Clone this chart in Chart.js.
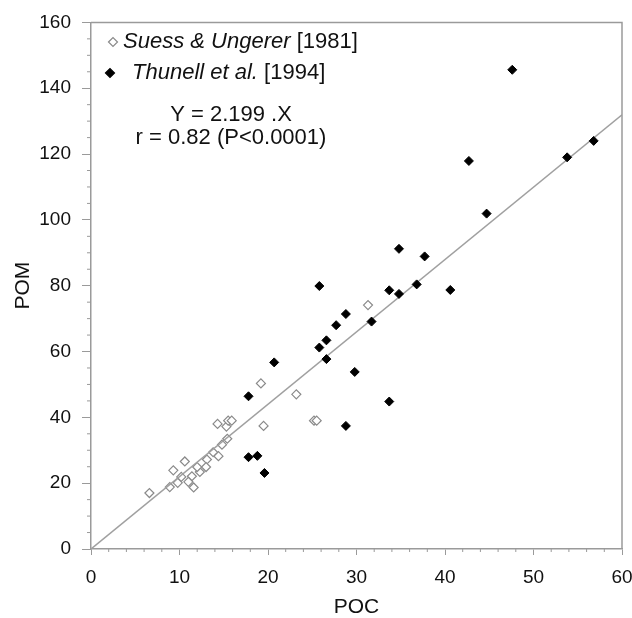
<!DOCTYPE html>
<html>
<head>
<meta charset="utf-8">
<script src="https://cdn.jsdelivr.net/npm/chart.js@4"></script>
<style>
  body { margin: 0; background: #fff; }
  #wrap { width: 632px; height: 618px; }
</style>
</head>
<body>
<div id="wrap"><canvas id="pomChart"></canvas></div>
<script>
// Suess & Ungerer [1981] - open diamonds
const suessPOC = [31.3, 19.2, 23.2, 25.2, 25.5, 19.5, 14.3, 15.3, 15.5, 15.9, 15.4, 14.8, 14.4, 13.8,
  13.1, 13.0, 12.3, 12.0, 11.4, 11.0, 11.6, 10.6, 9.3, 10.2, 9.8, 8.9, 6.6];
const suessPOM = [74.1, 50.3, 47.0, 39.0, 39.0, 37.4, 38.0, 37.2, 39.0, 39.0, 33.5, 31.7, 28.2, 29.4,
  27.2, 24.9, 23.4, 24.9, 22.1, 20.4, 18.7, 26.6, 23.9, 21.9, 20.1, 18.8, 17.0];

// Thunell et al. [1994] - filled diamonds
const thunellPOC = [47.6, 42.7, 44.7, 53.8, 56.8, 34.8, 37.7, 36.8, 40.6, 34.8, 33.7, 25.8, 28.8, 31.7,
  27.7, 26.6, 25.8, 26.6, 20.7, 29.8, 17.8, 33.7, 28.8, 17.8, 18.8, 19.6];
const thunellPOM = [145.6, 117.9, 101.9, 119.0, 124.0, 91.2, 88.9, 80.4, 78.7, 77.5, 78.6, 79.9, 71.4, 69.1,
  68.0, 63.4, 61.2, 57.7, 56.7, 53.8, 46.4, 44.8, 37.4, 27.9, 28.3, 23.1];

// regression Y = 2.199 .X, drawn across the x range
const slope = 2.199;
const fitPOC = [0, 60];

const xMin = 0, xMax = 60, xStep = 10, xMinor = 2;
const yMin = 0, yMax = 160, yStep = 20, yMinor = 5;

const toPoints = (xs, ys) => xs.map((x, i) => ({ x: x, y: ys[i] }));

const FONT = '"Liberation Sans", Arial, Helvetica, sans-serif';
const AXIS_GREY = '#9a9a9a';

// minor ticks + top/right frame
const frameAndTicks = {
  id: 'frameAndTicks',
  afterDraw(chart) {
    const { ctx, chartArea: a, scales: { x, y } } = chart;
    ctx.save();
    ctx.strokeStyle = AXIS_GREY;
    ctx.lineWidth = 1.5;
    ctx.beginPath();
    ctx.moveTo(a.left, a.top);
    ctx.lineTo(a.right, a.top);
    ctx.lineTo(a.right, a.bottom);
    ctx.stroke();

    ctx.lineWidth = 1;
    ctx.beginPath();
    for (let v = yMin; v <= yMax; v += yMinor) {
      if (v % yStep === 0) continue;
      const py = y.getPixelForValue(v);
      ctx.moveTo(a.left - 4, py);
      ctx.lineTo(a.left, py);
    }
    for (let v = xMin; v <= xMax; v += xMinor) {
      if (v % xStep === 0) continue;
      const px = x.getPixelForValue(v);
      ctx.moveTo(px, a.bottom);
      ctx.lineTo(px, a.bottom + 3);
    }
    ctx.stroke();
    ctx.restore();
  }
};

// legend with italic author names, plus the fit text
const legendText = {
  id: 'legendText',
  afterDraw(chart) {
    const ctx = chart.ctx;
    ctx.save();
    ctx.textBaseline = 'middle';
    ctx.textAlign = 'left';

    const rows = [
      { it: 'Suess & Ungerer', rest: ' [1981]', mx: 113, tx: 123, y: 42, open: true },
      { it: 'Thunell et al.', rest: ' [1994]', mx: 110, tx: 132, y: 73, open: false }
    ];
    rows.forEach(r => {
      ctx.save();
      ctx.lineWidth = 1.2;
      ctx.strokeStyle = r.open ? '#8a8a8a' : '#000';
      ctx.fillStyle = r.open ? '#fff' : '#000';
      Chart.helpers.drawPoint(ctx, { pointStyle: 'rectRot', radius: 4.5, rotation: 0, borderWidth: 1.2 }, r.mx, r.y);
      ctx.restore();
      ctx.fillStyle = '#111';
      ctx.font = 'italic 22px ' + FONT;
      ctx.fillText(r.it, r.tx, r.y);
      const w = ctx.measureText(r.it).width;
      ctx.font = '22px ' + FONT;
      ctx.fillText(r.rest, r.tx + w, r.y);
    });

    ctx.textAlign = 'center';
    ctx.fillStyle = '#111';
    ctx.font = '22px ' + FONT;
    ctx.fillText('Y = 2.199 .X', 231, 115);
    ctx.fillText('r = 0.82 (P<0.0001)', 231, 138);
    ctx.restore();
  }
};

const ctx = document.getElementById('pomChart').getContext('2d');
const chart = new Chart(ctx, {
  type: 'scatter',
  data: {
    datasets: [
      {
        label: 'Thunell et al. [1994]',
        data: toPoints(thunellPOC, thunellPOM),
        pointStyle: 'rectRot',
        pointRadius: 4.5,
        backgroundColor: '#000',
        borderColor: '#000',
        borderWidth: 1,
        order: 0
      },
      {
        type: 'line',
        label: 'fit',
        data: fitPOC.map(x => ({ x: x, y: slope * x })),
        borderColor: '#a0a0a0',
        borderWidth: 1.5,
        pointRadius: 0,
        fill: false,
        order: 1
      },
      {
        label: 'Suess & Ungerer [1981]',
        data: toPoints(suessPOC, suessPOM),
        pointStyle: 'rectRot',
        pointRadius: 4.5,
        backgroundColor: '#fff',
        borderColor: '#8a8a8a',
        borderWidth: 1.2,
        order: 2
      }
    ]
  },
  options: {
    responsive: true,
    maintainAspectRatio: false,
    animation: false,
    layout: { padding: { top: 20, right: 0, left: 0, bottom: 0 } },
    plugins: {
      legend: { display: false },
      tooltip: { enabled: false }
    },
    scales: {
      x: {
        type: 'linear',
        min: xMin,
        max: xMax,
        afterFit: s => { s.height = 69; s.paddingLeft = 0; s.paddingRight = 10; },
        ticks: { stepSize: xStep, color: '#111', padding: 11, font: { family: FONT, size: 19 } },
        grid: { drawOnChartArea: false, tickLength: 6, tickColor: AXIS_GREY, tickWidth: 1 },
        border: { color: AXIS_GREY, width: 1.5 },
        title: {
          display: true, text: 'POC', color: '#111',
          font: { family: FONT, size: 21, lineHeight: 1 },
          padding: { top: 0, bottom: 0 }
        }
      },
      y: {
        type: 'linear',
        min: yMin,
        max: yMax,
        afterFit: s => { s.width = 91; },
        ticks: { stepSize: yStep, color: '#111', padding: 11, font: { family: FONT, size: 19 } },
        grid: { drawOnChartArea: false, tickLength: 9, tickColor: AXIS_GREY, tickWidth: 1 },
        border: { color: AXIS_GREY, width: 1.5 },
        title: {
          display: true, text: 'POM', color: '#111',
          font: { family: FONT, size: 21, lineHeight: 1 },
          padding: { top: 13, bottom: 0 }
        }
      }
    }
  },
  plugins: [frameAndTicks, legendText]
});
</script>
</body>
</html>
